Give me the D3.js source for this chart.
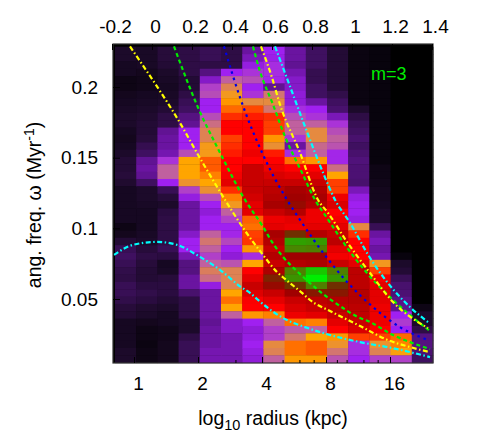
<!DOCTYPE html>
<html>
<head>
<meta charset="utf-8">
<script src="https://cdnjs.cloudflare.com/ajax/libs/d3/7.8.5/d3.min.js"></script>
<style>
body { margin: 0; background: #fff; }
text { font-family: "Liberation Sans", sans-serif; fill: #000; }
</style>
</head>
<body>
<div id="chart"></div>
<script>
// spectrogram cells, one array per radial bin, listed from top row to bottom row
var c0 = [1,1,.8,.8,.5,.5,.7,.8,.9,1,1,.8,.7,.8,1,1.2,1.2,1.3,1.1,.8,.8,.8,.8,.8,.5,.7,1.2,1.8,2,1.8,1.6,1.5,1.8,1.8,1.6,1.3,1.2,.8,.8,.8,.8,1,1];
var c1 = [.9,.9,.9,.7,.6,.6,.8,.9,1,1.1,1.2,1.2,1.3,1.7,2,2.8,3,2.8,2,1,1,.9,.8,.8,.8,.9,1,1.3,1.5,1.3,1.2,1.2,1.4,1.6,1.4,1.1,1,.7,.5,.5,.4,.5,.5];
var c2 = [1.3,1.3,1.2,1,.9,.8,.9,1,1.2,1.5,1.5,2.8,3,3,3.2,4.3,5,5,4,1.8,1.3,1,1.4,1.5,1.5,1.5,1.5,1.8,1.4,.8,.9,1.3,1.4,1.4,1.2,1,.8,.8,.6,.6,.7,.7,.7];
var c3 = [1.5,1.5,1.5,1.5,1.2,1.2,1.5,1.8,2,2.5,2.8,4,4,4,4.7,7,7,7,6.3,4.5,3.8,3,3,3,3,3.5,4,4,3.2,2.5,2.5,3,3,2.2,1.5,1.5,1.5,1,1,1.5,1.8,1.8,1.8];
var c4 = [1.8,1.8,1.5,2.5,3.5,4.5,4.7,4,4,4.7,5.3,5.8,5.8,6.6,6.6,8,8,7.5,7,6.2,4.7,4,3.7,4,4,5,5.5,5,4.5,5,5.7,5.3,3.8,3,3,3,3,2.8,3,3,3,3.2,3.2];
var c5 = [1.5,1.5,1.5,4,5,5.8,6.5,7.2,7.8,8.5,9,9,8.3,8.5,8.7,9,9,9.2,9.5,8.5,7.5,6.5,5,4.5,4,4.1,4.6,4,3.7,4.8,5.8,5.8,5.8,7,7.7,7,5,3.5,3.5,3.2,3.2,3.2,3.2];
var c6 = [3,3.3,3.8,4.3,4.7,4,4.3,6,8.2,8.7,9,9,9,9,9.3,9,10,10,10,10,9.8,9.5,9.5,7.9,7.7,8.3,8.4,7.2,4.2,7,9,9.5,10,9.6,9.1,9,7.2,4,3.7,3.8,4,3.8,3.7];
var c7 = [4,3.9,4.2,4.2,4.1,2.8,5.5,6,5.5,8.5,8.3,8.3,7.2,6.2,8.7,9,9.3,9.7,10,10.3,10.5,10.8,10,9.3,9.5,10.8,10.5,10,10.5,10,10.7,11.7,11.2,10,9.5,9,7.5,5,4.5,4.5,6,5.8,5];
var c8 = [3,3,2.8,3.2,3.5,3.5,3.7,3.7,4.2,4.7,5,5,4.3,3,4.2,7.7,9,9.5,10,10.8,11,11.2,10.5,9.5,9.3,12,14,13.2,11,10.5,13,13.6,12,11,10,9.7,9.3,7.7,4.9,5.5,7.7,7.7,7.2];
var c9 = [2,2,2,1.7,1.7,2,2,3,4,4.3,5,6,6,5.2,5,7.2,9,9.5,10,10.5,10.8,10.5,9.3,9.3,9.5,10.5,13.8,13,11,10.7,14.5,15,13,11.5,10.3,10,9.5,7.5,5,7,8,8,7.2];
var c10 = [1.2,1.2,1.2,1.2,1.2,1.2,1.6,2,2.2,3.3,4.3,4.7,5,4.8,4.1,4.1,5.3,7,8.3,8.3,9.3,9.7,9,9.2,9.5,10,10.3,9.5,9.2,10,13,13.8,12,11.5,10.5,10.3,10,9.5,9,7.2,6.3,5.5,4.8];
var c11 = [.4,.4,.4,.4,.4,.4,.4,.4,1,1.5,1.8,2,2.2,2,2.2,2.4,2.3,2.3,2.2,3.3,3.8,4,4,3.8,6,8.5,9,9,9,9.5,10.3,10.3,10.3,10.5,10.5,10.3,10.2,10,9.7,8.3,4.2,4.2,4];
var c12 = [.3,.3,.3,.3,.3,.3,.3,.3,.3,.3,.3,.3,.3,.3,.3,.3,.5,.5,.6,.7,.7,.8,1,1,1.8,3,3.3,3,3.2,6.5,8.3,9.2,9.5,9.5,9.5,9.3,9.3,9.3,9,8.3,6.3,5.8,4.5];
var c13 = [0,0,0,0,0,0,0,0,0,0,0,0,0,0,0,0,0,0,0,0,0,0,0,0,0,0,0,0,.3,1,1.2,1.8,2.2,2.3,2.6,2.7,4,4.4,4,7.8,7.5,6.8,4.5];
var c14 = [0,0,0,0,0,0,0,0,0,0,0,0,0,0,0,0,0,0,0,0,0,0,0,0,0,0,0,0,0,0,0,0,0,0,0,.5,1,1,1.5,2.5,2.5,2.3,2];
var cells = [c0, c1, c2, c3, c4, c5, c6, c7, c8, c9, c10, c11, c12, c13, c14];

var paletteStops = d3.range(0, 16);
var paletteColors = ["#000000", "#1c0a2a", "#3f1060", "#6a14a0", "#a020f0", "#c0609f", "#e58a40", "#ffa500",
    "#ff5a00", "#ff0000", "#c80000", "#a00000", "#703000", "#4f7f00", "#30a000", "#00ee00"];

// resonance curves: log10 radius, angular frequency
var yellowInX = [-.11,-.06,.024,.13,.23,.365,.455,.555,.625,.665,.75,.79,.89,.99,1.04,1.18,1.29,1.39];
var yellowInY = [.2287,.2183,.2006,.177,.1521,.1202,.1004,.0812,.0691,.0642,.0543,.0493,.0415,.0344,.0309,.0209,.016,.0124];
var greenInX = [.11,.23,.34,.465,.555,.6,.655,.74,.83,.955,1.03,1.09,1.205,1.29,1.39];
var greenInY = [.2287,.1855,.1535,.1202,.1011,.0904,.0798,.0677,.0564,.0436,.0372,.0337,.0245,.0195,.0145];
var blueX = [.36,.44,.555,.675,.74,.875,.975,1.105,1.24,1.38];
var blueY = [.2287,.1926,.1521,.1202,.106,.0791,.0621,.0443,.0301,.0209];
var greenOutX = [.505,.54,.605,.665,.75,.815,.875,.955,1.075,1.205,1.39];
var greenOutY = [.2287,.211,.1876,.1649,.1394,.1202,.1074,.0904,.0684,.0493,.0273];
var yellowOutX = [.545,.6,.64,.74,.83,.88,.975,1.09,1.205,1.38];
var yellowOutY = [.2287,.2067,.1876,.1535,.1202,.111,.0904,.0684,.0479,.0294];
var cyanOutX = [.615,.69,.765,.855,.915,.99,1.09,1.2,1.29,1.38];
var cyanOutY = [.2287,.2004,.172,.1394,.1202,.1039,.0791,.0578,.0443,.0337];
var cyanInX = [-.19,-.095,.025,.125,.24,.34,.44,.49,.525,.6,.675,.765,.89,1.04,1.205,1.39];
var cyanInY = [.0812,.0883,.0904,.0883,.0798,.0706,.059,.0543,.05,.0415,.0351,.0301,.0245,.0195,.0152,.0089];

var topTicks = [-0.2, 0, 0.2, 0.4, 0.6, 0.8, 1, 1.2, 1.4];
var bottomTicks = [1, 2, 4, 8, 16];
var bottomMinor = [3, 5, 6, 7, 9, 10, 12, 14];
var leftTicks = [0.05, 0.1, 0.15, 0.2];

var svgWidth = 485;
var svgHeight = 448;
var box = { left: 113, right: 433, top: 44, bottom: 363 };

var svg = d3.select("#chart")
    .append("svg")
    .attr("width", svgWidth)
    .attr("height", svgHeight)
    .style("display", "block");

var xTop = d3.scaleLinear().domain([-0.2, 1.4]).range([112, 432]);
var xBottom = d3.scaleLog().base(2).domain([1, 16]).range([134, 390]);
var y = d3.scaleLinear().domain([0.05, 0.2]).range([299, 87]);
var xCell = d3.scaleBand().domain(d3.range(cells.length)).range([115, 433]);
var yCell = d3.scaleBand().domain(d3.range(c0.length)).range([46.7, 362.7]);
var color = d3.scaleLinear().domain(paletteStops).range(paletteColors);

svg.append("rect")
    .attr("x", box.left)
    .attr("y", box.top)
    .attr("width", box.right - box.left)
    .attr("height", box.bottom - box.top)
    .attr("fill", "#000");

cells.forEach(function (col, i) {
    svg.append("g").selectAll("rect")
        .data(col)
        .enter()
        .append("rect")
        .attr("x", xCell(i))
        .attr("y", (d, j) => yCell(j))
        .attr("width", xCell.bandwidth() + 0.4)
        .attr("height", yCell.bandwidth() + 0.4)
        .attr("fill", d => color(d));
});

var curves = [
    { xs: cyanInX, ys: cyanInY, stroke: "#00ffff", dash: "5 2.5 1.5 2.5" },
    { xs: yellowInX, ys: yellowInY, stroke: "#ffff00", dash: "5 2.5 1.5 2.5" },
    { xs: greenInX, ys: greenInY, stroke: "#00ee00", dash: "4 3" },
    { xs: blueX, ys: blueY, stroke: "#0000e6", dash: "2.5 4" },
    { xs: greenOutX, ys: greenOutY, stroke: "#00ee00", dash: "4 3" },
    { xs: yellowOutX, ys: yellowOutY, stroke: "#ffff00", dash: "5 2.5 1.5 2.5" },
    { xs: cyanOutX, ys: cyanOutY, stroke: "#00ffff", dash: "5 2.5 1.5 2.5" }
];

var line = d3.line()
    .x(d => xTop(d[0]))
    .y(d => y(d[1]))
    .curve(d3.curveMonotoneX);

curves.forEach(function (c) {
    svg.append("path")
        .datum(d3.zip(c.xs, c.ys))
        .attr("d", line)
        .attr("fill", "none")
        .attr("stroke", c.stroke)
        .attr("stroke-width", 2.2)
        .attr("stroke-dasharray", c.dash);
});

svg.append("rect")
    .attr("x", box.left)
    .attr("y", box.top)
    .attr("width", box.right - box.left)
    .attr("height", box.bottom - box.top)
    .attr("fill", "none")
    .attr("stroke", "#333")
    .attr("stroke-width", 1.2);

// axes, ticks point into the plot
var topAxis = d3.axisTop(xTop).tickValues(topTicks).tickSize(-6).tickPadding(11)
    .tickFormat(d => String(d));
var bottomAxis = d3.axisBottom(xBottom).tickValues(bottomTicks).tickSize(-6).tickPadding(13.5)
    .tickFormat(d => String(d));
var minorAxis = d3.axisBottom(xBottom).tickValues(bottomMinor).tickSize(-3).tickFormat("");
var leftAxis = d3.axisLeft(y).tickValues(leftTicks).tickSize(-7).tickPadding(15)
    .tickFormat(d => String(d));

function drawAxis(axis, tx, ty) {
    var g = svg.append("g")
        .attr("transform", `translate(${tx}, ${ty})`)
        .call(axis);
    g.select(".domain").remove();
    g.selectAll("line").attr("stroke", "#000");
    g.selectAll("text").style("font-size", "19px");
    return g;
}

drawAxis(topAxis, 0, box.top).selectAll("text").attr("dx", 3);
drawAxis(bottomAxis, 0, box.bottom).selectAll("text").attr("dx", 4);
drawAxis(minorAxis, 0, box.bottom);
drawAxis(leftAxis, box.left, 0);

svg.append("text")
    .attr("x", 371)
    .attr("y", 80)
    .style("font-size", "18px")
    .style("fill", "#00ee00")
    .text("m=3");

var xTitle = svg.append("text")
    .attr("x", 273)
    .attr("y", 425)
    .style("font-size", "19.5px")
    .style("text-anchor", "middle");
xTitle.append("tspan").text("log");
xTitle.append("tspan").attr("dy", 5).style("font-size", "14.5px").text("10");
xTitle.append("tspan").attr("dy", -5).text(" radius (kpc)");

var yTitle = svg.append("text")
    .attr("transform", "translate(41, 205) rotate(-90)")
    .style("font-size", "19.5px")
    .style("text-anchor", "middle");
yTitle.append("tspan").text("ang. freq. ω (Myr");
yTitle.append("tspan").attr("dy", -7).style("font-size", "14px").text("-1");
yTitle.append("tspan").attr("dy", 7).text(")");
</script>
</body>
</html>
